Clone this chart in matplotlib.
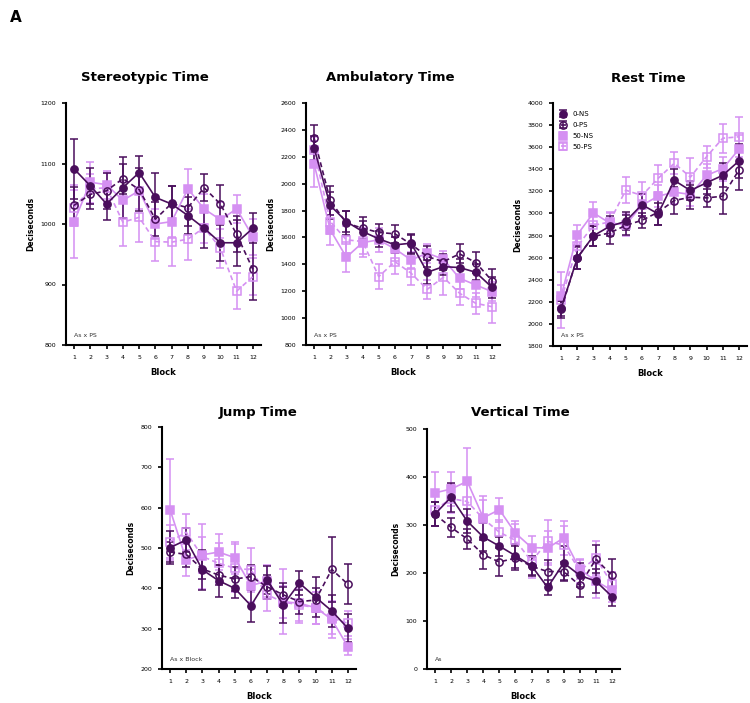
import numpy as np
import matplotlib
matplotlib.use("Agg")
import matplotlib.pyplot as plt
from matplotlib.ticker import MultipleLocator

blocks = list(range(1, 13))
groups = ["0-NS", "0-PS", "50-NS", "50-PS"]

# ---- Stereotypic Time ----
stereo_0ns = [1091, 1063, 1033, 1060, 1085, 1044, 1033, 1014, 993, 969, 969, 993]
stereo_0ps = [1031, 1049, 1055, 1075, 1057, 1008, 1034, 1027, 1060, 1033, 983, 925]
stereo_50ns = [1004, 1069, 1065, 1039, 1055, 1000, 1004, 1058, 1025, 1007, 1025, 979]
stereo_50ps = [1027, 1058, 1060, 1003, 1011, 971, 970, 975, 994, 960, 889, 913]
stereo_0ns_e = [50, 30, 27, 50, 27, 40, 29, 30, 33, 30, 38, 25]
stereo_0ps_e = [30, 25, 30, 25, 35, 28, 28, 30, 22, 32, 30, 50]
stereo_50ns_e = [60, 34, 23, 30, 30, 25, 25, 33, 25, 30, 23, 30]
stereo_50ps_e = [30, 25, 25, 40, 40, 32, 40, 35, 25, 32, 30, 30]

# ---- Ambulatory Time ----
amb_0ns = [2265, 1838, 1718, 1644, 1590, 1545, 1557, 1341, 1383, 1376, 1341, 1229]
amb_0ps = [2339, 1875, 1706, 1669, 1637, 1627, 1550, 1458, 1420, 1478, 1413, 1279]
amb_50ns = [2148, 1656, 1453, 1562, 1582, 1515, 1433, 1483, 1438, 1296, 1247, 1197]
amb_50ps = [2250, 1718, 1582, 1570, 1309, 1420, 1334, 1214, 1304, 1185, 1110, 1085]
amb_0ns_e = [90, 100, 80, 75, 60, 60, 70, 90, 60, 60, 60, 80]
amb_0ps_e = [100, 110, 90, 80, 60, 65, 70, 80, 60, 70, 80, 90]
amb_50ns_e = [170, 110, 110, 110, 90, 90, 60, 70, 60, 80, 90, 70]
amb_50ps_e = [100, 90, 100, 90, 90, 90, 90, 70, 130, 90, 80, 120]

# ---- Rest Time ----
rest_0ns = [2140, 2595, 2798, 2883, 2929, 3080, 2996, 3299, 3208, 3278, 3345, 3475]
rest_0ps = [2131, 2601, 2792, 2823, 2892, 2938, 3011, 3117, 3147, 3141, 3156, 3393]
rest_50ns = [2252, 2807, 3005, 2914, 2898, 3074, 3156, 3193, 3172, 3345, 3405, 3581]
rest_50ps = [2216, 2701, 2892, 2923, 3211, 3162, 3317, 3454, 3329, 3514, 3681, 3694]
rest_0ns_e = [70, 100, 90, 90, 80, 100, 100, 100, 90, 100, 110, 150]
rest_0ps_e = [80, 100, 90, 100, 90, 70, 120, 120, 110, 80, 160, 180]
rest_50ns_e = [100, 90, 100, 100, 100, 100, 100, 110, 100, 100, 110, 130]
rest_50ps_e = [250, 90, 90, 80, 120, 120, 120, 100, 170, 100, 130, 180]

# ---- Jump Time ----
jump_0ns = [501, 520, 446, 419, 400, 357, 421, 359, 413, 378, 344, 301]
jump_0ps = [490, 484, 448, 433, 423, 429, 404, 384, 367, 371, 447, 410]
jump_50ns = [595, 471, 483, 490, 476, 407, 418, 367, 363, 352, 323, 255]
jump_50ps = [516, 539, 479, 462, 450, 446, 384, 366, 359, 352, 327, 313]
jump_0ns_e = [40, 30, 50, 40, 25, 40, 35, 45, 30, 50, 40, 35]
jump_0ps_e = [25, 30, 25, 25, 30, 30, 30, 30, 30, 30, 80, 50]
jump_50ns_e = [125, 40, 45, 45, 40, 40, 40, 80, 50, 40, 45, 20]
jump_50ps_e = [40, 45, 80, 50, 60, 55, 40, 40, 40, 40, 40, 30]

# ---- Vertical Time ----
vert_0ns = [323, 358, 308, 275, 256, 236, 215, 170, 221, 195, 183, 151]
vert_0ps = [322, 295, 271, 238, 223, 231, 214, 203, 203, 174, 229, 195]
vert_50ns = [367, 375, 391, 315, 332, 283, 253, 252, 273, 208, 183, 164]
vert_50ps = [332, 355, 349, 313, 285, 268, 224, 266, 258, 205, 231, 178]
vert_0ns_e = [25, 30, 25, 30, 20, 25, 20, 15, 35, 25, 25, 20]
vert_0ps_e = [25, 20, 20, 30, 30, 25, 20, 25, 20, 25, 30, 35]
vert_50ns_e = [43, 35, 70, 45, 25, 25, 25, 35, 35, 20, 35, 25]
vert_50ps_e = [35, 30, 45, 40, 25, 35, 35, 45, 40, 25, 35, 25]

titles = ["Stereotypic Time", "Ambulatory Time", "Rest Time", "Jump Time", "Vertical Time"]
stats = ["As x PS", "As x PS", "As x PS", "As x Block", "As"]

DARK = "#4A0E5C"
LIGHT = "#D590F2"

styles = {
    "0-NS": dict(color=DARK, marker="o", mfc=DARK, ls="-"),
    "0-PS": dict(color=DARK, marker="o", mfc="none", ls=(0, (3, 2))),
    "50-NS": dict(color=LIGHT, marker="s", mfc=LIGHT, ls="-"),
    "50-PS": dict(color=LIGHT, marker="s", mfc="none", ls=(0, (3, 2))),
}

panels = [
    (stereo_0ns, stereo_0ps, stereo_50ns, stereo_50ps,
     stereo_0ns_e, stereo_0ps_e, stereo_50ns_e, stereo_50ps_e, (800, 1200), 100),
    (amb_0ns, amb_0ps, amb_50ns, amb_50ps,
     amb_0ns_e, amb_0ps_e, amb_50ns_e, amb_50ps_e, (800, 2600), 200),
    (rest_0ns, rest_0ps, rest_50ns, rest_50ps,
     rest_0ns_e, rest_0ps_e, rest_50ns_e, rest_50ps_e, (1800, 4000), 200),
    (jump_0ns, jump_0ps, jump_50ns, jump_50ps,
     jump_0ns_e, jump_0ps_e, jump_50ns_e, jump_50ps_e, (200, 800), 100),
    (vert_0ns, vert_0ps, vert_50ns, vert_50ps,
     vert_0ns_e, vert_0ps_e, vert_50ns_e, vert_50ps_e, (0, 500), 100),
]

W, H = 750, 703
fig = plt.figure(figsize=(W / 100, H / 100), dpi=100)

# axes rectangles in pixels: left, top, right, bottom
rects = [
    (66, 103, 261, 345),
    (306, 103, 500, 345),
    (553, 103, 747, 346),
    (162, 427, 356, 669),
    (427, 429, 620, 669),
]
title_pos = [(145, 78), (390, 78), (648, 78), (258, 413), (520, 413)]

for i, (pan, rect, tpos) in enumerate(zip(panels, rects, title_pos)):
    l, t, r, b = rect
    ax = fig.add_axes([l / W, 1 - b / H, (r - l) / W, (b - t) / H])
    means = pan[:4]
    errs = pan[4:8]
    ylim, step = pan[8], pan[9]
    order = [3, 2, 1, 0]
    handles = {}
    for k in order:
        g = groups[k]
        st = styles[g]
        eb = ax.errorbar(blocks, means[k], yerr=errs[k], color=st["color"],
                         marker=st["marker"], mfc=st["mfc"], mec=st["color"],
                         ms=5.2, mew=1.1, ls=st["ls"], lw=1.2,
                         elinewidth=1.1, capsize=3.2, capthick=1.1, label=g)
        handles[g] = eb
    ax.set_xlim(0.5, 12.5)
    ax.set_ylim(*ylim)
    ax.yaxis.set_major_locator(MultipleLocator(step))
    ax.set_xticks(blocks)
    for s in ["top", "right"]:
        ax.spines[s].set_visible(False)
    for s in ["left", "bottom"]:
        ax.spines[s].set_linewidth(1.5)
    ax.tick_params(axis="both", labelsize=4.5, width=1.2, length=3, direction="out", pad=4)
    ax.set_xlabel("Block", fontsize=6, fontweight="bold", labelpad=6)
    ax.set_ylabel("Deciseconds", fontsize=5.5, fontweight="bold", labelpad=4)
    ax.text(0.04, 0.035, stats[i], transform=ax.transAxes, fontsize=4.5, color="#333333")
    fig.text(tpos[0] / W, 1 - tpos[1] / H, titles[i], ha="center", va="center",
             fontsize=9.5, fontweight="bold")
    if i == 2:
        ax.legend([handles[g] for g in groups], groups, loc="upper left",
                  bbox_to_anchor=(0.0, 1.0), frameon=False, fontsize=5,
                  handlelength=0.6, handletextpad=1.0, labelspacing=0.7,
                  borderaxespad=0.8)

fig.text(10 / W, 1 - 18 / H, "A", fontsize=11, fontweight="bold", ha="left", va="center")

fig.savefig("out.png", dpi=100)
